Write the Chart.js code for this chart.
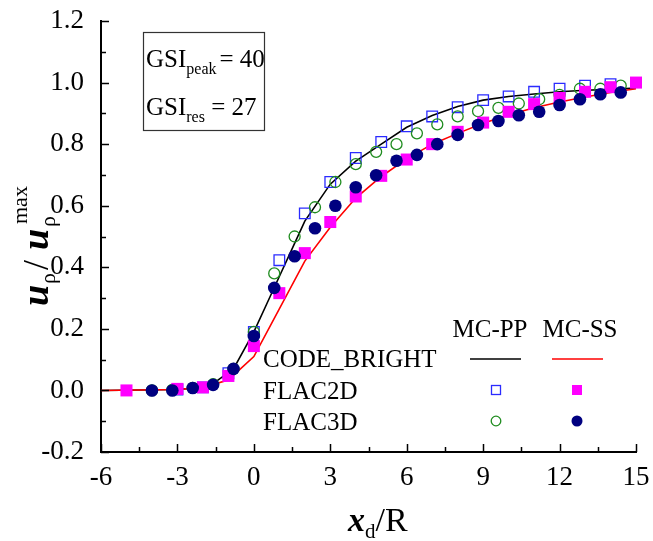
<!DOCTYPE html>
<html>
<head>
<meta charset="utf-8">
<script src="https://cdn.jsdelivr.net/npm/chart.js@4/dist/chart.umd.min.js"></script>
<style>
  html, body { margin: 0; padding: 0; background: #fff; }
  #chart { display: block; }
</style>
</head>
<body>
<canvas id="chart" width="653" height="541"></canvas>
<script>
// CODE_BRIGHT curves
const ppCurveX = [-6, -3, -2, -1.6, -0.8, 0, 0.5, 1, 1.5, 2, 3, 4, 5, 6, 7, 8, 9, 10, 11, 12, 13, 14, 15];
const ppCurveY = [0, 0.003, 0.01, 0.022, 0.07, 0.19, 0.28, 0.37, 0.46, 0.55, 0.67, 0.745, 0.80, 0.855, 0.893, 0.922, 0.943, 0.955, 0.963, 0.97, 0.975, 0.978, 0.982];
const ssCurveX = [-6, -3, -2, -1, 0, 1, 2, 3, 4, 5, 6, 7, 8, 9, 10, 11, 12, 13, 14, 15];
const ssCurveY = [0, 0.003, 0.01, 0.034, 0.11, 0.265, 0.42, 0.53, 0.625, 0.695, 0.752, 0.80, 0.835, 0.868, 0.895, 0.918, 0.937, 0.953, 0.968, 0.98];

// FLAC2D results
const flac2dPPX = [-3, -2, -1, 0, 1, 2, 3, 4, 5, 6, 7, 8, 9, 10, 11, 12, 13, 14];
const flac2dPPY = [0.003, 0.01, 0.056, 0.19, 0.423, 0.575, 0.677, 0.755, 0.807, 0.858, 0.89, 0.92, 0.943, 0.955, 0.97, 0.98, 0.99, 0.995];
const flac2dSSX = [-5, -3, -2, -1, 0, 1, 2, 3, 4, 5, 6, 7, 8, 9, 10, 11, 12, 13, 14, 15];
const flac2dSSY = [0, 0.005, 0.01, 0.047, 0.144, 0.316, 0.446, 0.547, 0.63, 0.697, 0.75, 0.80, 0.84, 0.87, 0.905, 0.93, 0.95, 0.97, 0.985, 1.0];

// FLAC3D results
const flac3dX = [-4, -3.2, -2.4, -1.6, -0.8, 0, 0.8, 1.6, 2.4, 3.2, 4.0, 4.8, 5.6, 6.4, 7.2, 8.0, 8.8, 9.6, 10.4, 11.2, 12.0, 12.8, 13.6, 14.4];
const flac3dPPY = [0, 0.002, 0.008, 0.02, 0.07, 0.19, 0.38, 0.50, 0.595, 0.677, 0.735, 0.775, 0.80, 0.835, 0.864, 0.89, 0.907, 0.918, 0.932, 0.946, 0.96, 0.98, 0.98, 0.99];
const flac3dSSY = [0, 0, 0.008, 0.018, 0.07, 0.177, 0.333, 0.436, 0.527, 0.60, 0.66, 0.699, 0.746, 0.765, 0.80, 0.83, 0.862, 0.875, 0.894, 0.905, 0.927, 0.946, 0.962, 0.968];

const xTicks = [-6, -3, 0, 3, 6, 9, 12, 15];
const yTicks = [-0.2, 0, 0.2, 0.4, 0.6, 0.8, 1.0, 1.2];

const SERIF = "'Liberation Serif', 'Times New Roman', serif";

function toPoints(xs, ys) {
  return xs.map((x, i) => ({ x: x, y: ys[i] }));
}

// draws a list of text pieces one after another along the baseline
function drawRuns(ctx, runs, x, y) {
  let cx = x;
  runs.forEach(r => {
    ctx.font = r.font;
    cx += (r.dx || 0);
    ctx.fillText(r.text, cx, y + (r.dy || 0));
    cx += ctx.measureText(r.text).width;
  });
}

const decorations = {
  id: 'decorations',
  afterDraw(chart) {
    const ctx = chart.ctx;
    const xs = chart.scales.x;
    const ys = chart.scales.y;
    const area = chart.chartArea;
    ctx.save();

    // inward major / minor ticks
    ctx.strokeStyle = '#000';
    ctx.lineWidth = 1.5;
    ctx.beginPath();
    for (let i = 0; i <= 14; i++) {
      const v = -6 + i * 1.5;
      const px = Math.round(xs.getPixelForValue(v)) + 0.5;
      ctx.moveTo(px, area.bottom);
      ctx.lineTo(px, area.bottom - (i % 2 === 0 ? 8 : 5));
    }
    for (let i = 0; i <= 14; i++) {
      const v = -0.2 + i * 0.1;
      const py = Math.round(ys.getPixelForValue(v)) + 0.5;
      ctx.moveTo(area.left, py);
      ctx.lineTo(area.left + (i % 2 === 0 ? 8 : 5), py);
    }
    ctx.stroke();

    ctx.fillStyle = '#000';
    ctx.textBaseline = 'alphabetic';
    ctx.textAlign = 'left';

    // x axis title
    drawRuns(ctx, [
      { text: 'x', font: `italic bold 34px ${SERIF}` },
      { text: 'd', font: `21px ${SERIF}`, dy: 7 },
      { text: '/R', font: `34px ${SERIF}` }
    ], 348, 531);

    // y axis title, rotated
    ctx.save();
    ctx.translate(48, 306);
    ctx.rotate(-Math.PI / 2);
    ctx.font = `italic bold 38px ${SERIF}`;
    ctx.fillText('u', 0, 0);
    ctx.font = `22px ${SERIF}`;
    ctx.fillText('ρ', 22, 7);
    ctx.font = `36px ${SERIF}`;
    ctx.fillText('/', 36, 0);
    ctx.font = `italic bold 38px ${SERIF}`;
    ctx.fillText('u', 56, 0);
    ctx.font = `22px ${SERIF}`;
    ctx.fillText('ρ', 79, 7);
    ctx.fillText('max', 82, -21);
    ctx.restore();

    // GSI box
    ctx.strokeStyle = '#333';
    ctx.lineWidth = 1.2;
    ctx.strokeRect(143.5, 32.5, 121, 98);
    drawRuns(ctx, [
      { text: 'GSI', font: `25px ${SERIF}` },
      { text: 'peak', font: `16px ${SERIF}`, dy: 7 },
      { text: '= 40', font: `25px ${SERIF}`, dx: 3 }
    ], 146, 67);
    drawRuns(ctx, [
      { text: 'GSI', font: `25px ${SERIF}` },
      { text: 'res', font: `16px ${SERIF}`, dy: 7 },
      { text: ' = 27', font: `25px ${SERIF}` }
    ], 146, 115);

    // legend table
    ctx.font = `25px ${SERIF}`;
    ctx.textAlign = 'center';
    ctx.fillText('MC-PP', 490, 337);
    ctx.fillText('MC-SS', 580, 337);
    ctx.textAlign = 'left';
    ctx.fillText('CODE_BRIGHT', 263, 367);
    ctx.fillText('FLAC2D', 263, 399);
    ctx.fillText('FLAC3D', 263, 430);

    ctx.lineWidth = 1.6;
    ctx.strokeStyle = '#000';
    ctx.beginPath(); ctx.moveTo(470, 359); ctx.lineTo(521, 359); ctx.stroke();
    ctx.strokeStyle = '#ff0000';
    ctx.beginPath(); ctx.moveTo(552, 359); ctx.lineTo(603, 359); ctx.stroke();

    ctx.lineWidth = 1.3;
    ctx.strokeStyle = '#2b2bff';
    ctx.strokeRect(491.5, 385.5, 9, 9);
    ctx.fillStyle = '#ff00ff';
    ctx.fillRect(572, 385, 10, 10);
    ctx.strokeStyle = '#1f8c1f';
    ctx.beginPath(); ctx.arc(496, 421, 4.8, 0, Math.PI * 2); ctx.stroke();
    ctx.fillStyle = '#000080';
    ctx.beginPath(); ctx.arc(577, 421, 5.5, 0, Math.PI * 2); ctx.fill();

    ctx.restore();
  }
};

new Chart(document.getElementById('chart'), {
  type: 'scatter',
  data: {
    datasets: [
      {
        label: 'CODE_BRIGHT MC-PP',
        data: toPoints(ppCurveX, ppCurveY),
        showLine: true,
        borderColor: '#000',
        borderWidth: 1.6,
        pointRadius: 0,
        order: 10
      },
      {
        label: 'CODE_BRIGHT MC-SS',
        data: toPoints(ssCurveX, ssCurveY),
        showLine: true,
        borderColor: '#ff0000',
        borderWidth: 1.6,
        pointRadius: 0,
        order: 9
      },
      {
        label: 'FLAC2D MC-PP',
        data: toPoints(flac2dPPX, flac2dPPY),
        pointStyle: 'rect',
        pointRadius: 7.5,
        borderColor: '#2b2bff',
        backgroundColor: 'rgba(0,0,0,0)',
        borderWidth: 1.3,
        order: 8
      },
      {
        label: 'FLAC3D MC-PP',
        data: toPoints(flac3dX, flac3dPPY),
        pointStyle: 'circle',
        pointRadius: 5.5,
        borderColor: '#1f8c1f',
        backgroundColor: 'rgba(0,0,0,0)',
        borderWidth: 1.3,
        order: 7
      },
      {
        label: 'FLAC2D MC-SS',
        data: toPoints(flac2dSSX, flac2dSSY),
        pointStyle: 'rect',
        pointRadius: 8.5,
        borderWidth: 0,
        backgroundColor: '#ff00ff',
        borderColor: '#ff00ff',
        order: 6
      },
      {
        label: 'FLAC3D MC-SS',
        data: toPoints(flac3dX, flac3dSSY),
        pointStyle: 'circle',
        pointRadius: 6.3,
        borderWidth: 0,
        backgroundColor: '#000080',
        borderColor: '#000080',
        order: 5
      }
    ]
  },
  options: {
    responsive: false,
    animation: false,
    clip: false,
    layout: { padding: { top: 21, right: 17, left: 0, bottom: 0 } },
    plugins: {
      legend: { display: false },
      tooltip: { enabled: false }
    },
    scales: {
      x: {
        type: 'linear',
        min: -6,
        max: 15,
        afterBuildTicks: scale => { scale.ticks = xTicks.map(v => ({ value: v })); },
        afterFit: scale => {
          scale.height = 89;
          scale.paddingLeft = 0;
          scale.paddingRight = 0;
        },
        ticks: {
          color: '#000',
          padding: 10,
          font: { family: SERIF, size: 27 },
          maxRotation: 0,
          callback: v => String(v)
        },
        grid: { display: false, drawTicks: false },
        border: { display: true, color: '#000', width: 2 }
      },
      y: {
        type: 'linear',
        min: -0.2,
        max: 1.2,
        afterBuildTicks: scale => { scale.ticks = yTicks.map(v => ({ value: v })); },
        afterFit: scale => {
          scale.width = 101;
          scale.paddingTop = 0;
          scale.paddingBottom = 0;
        },
        ticks: {
          color: '#000',
          padding: 17,
          font: { family: SERIF, size: 27 },
          callback: v => v.toFixed(1)
        },
        grid: { display: false, drawTicks: false },
        border: { display: true, color: '#000', width: 2 }
      }
    }
  },
  plugins: [decorations]
});
</script>
</body>
</html>
